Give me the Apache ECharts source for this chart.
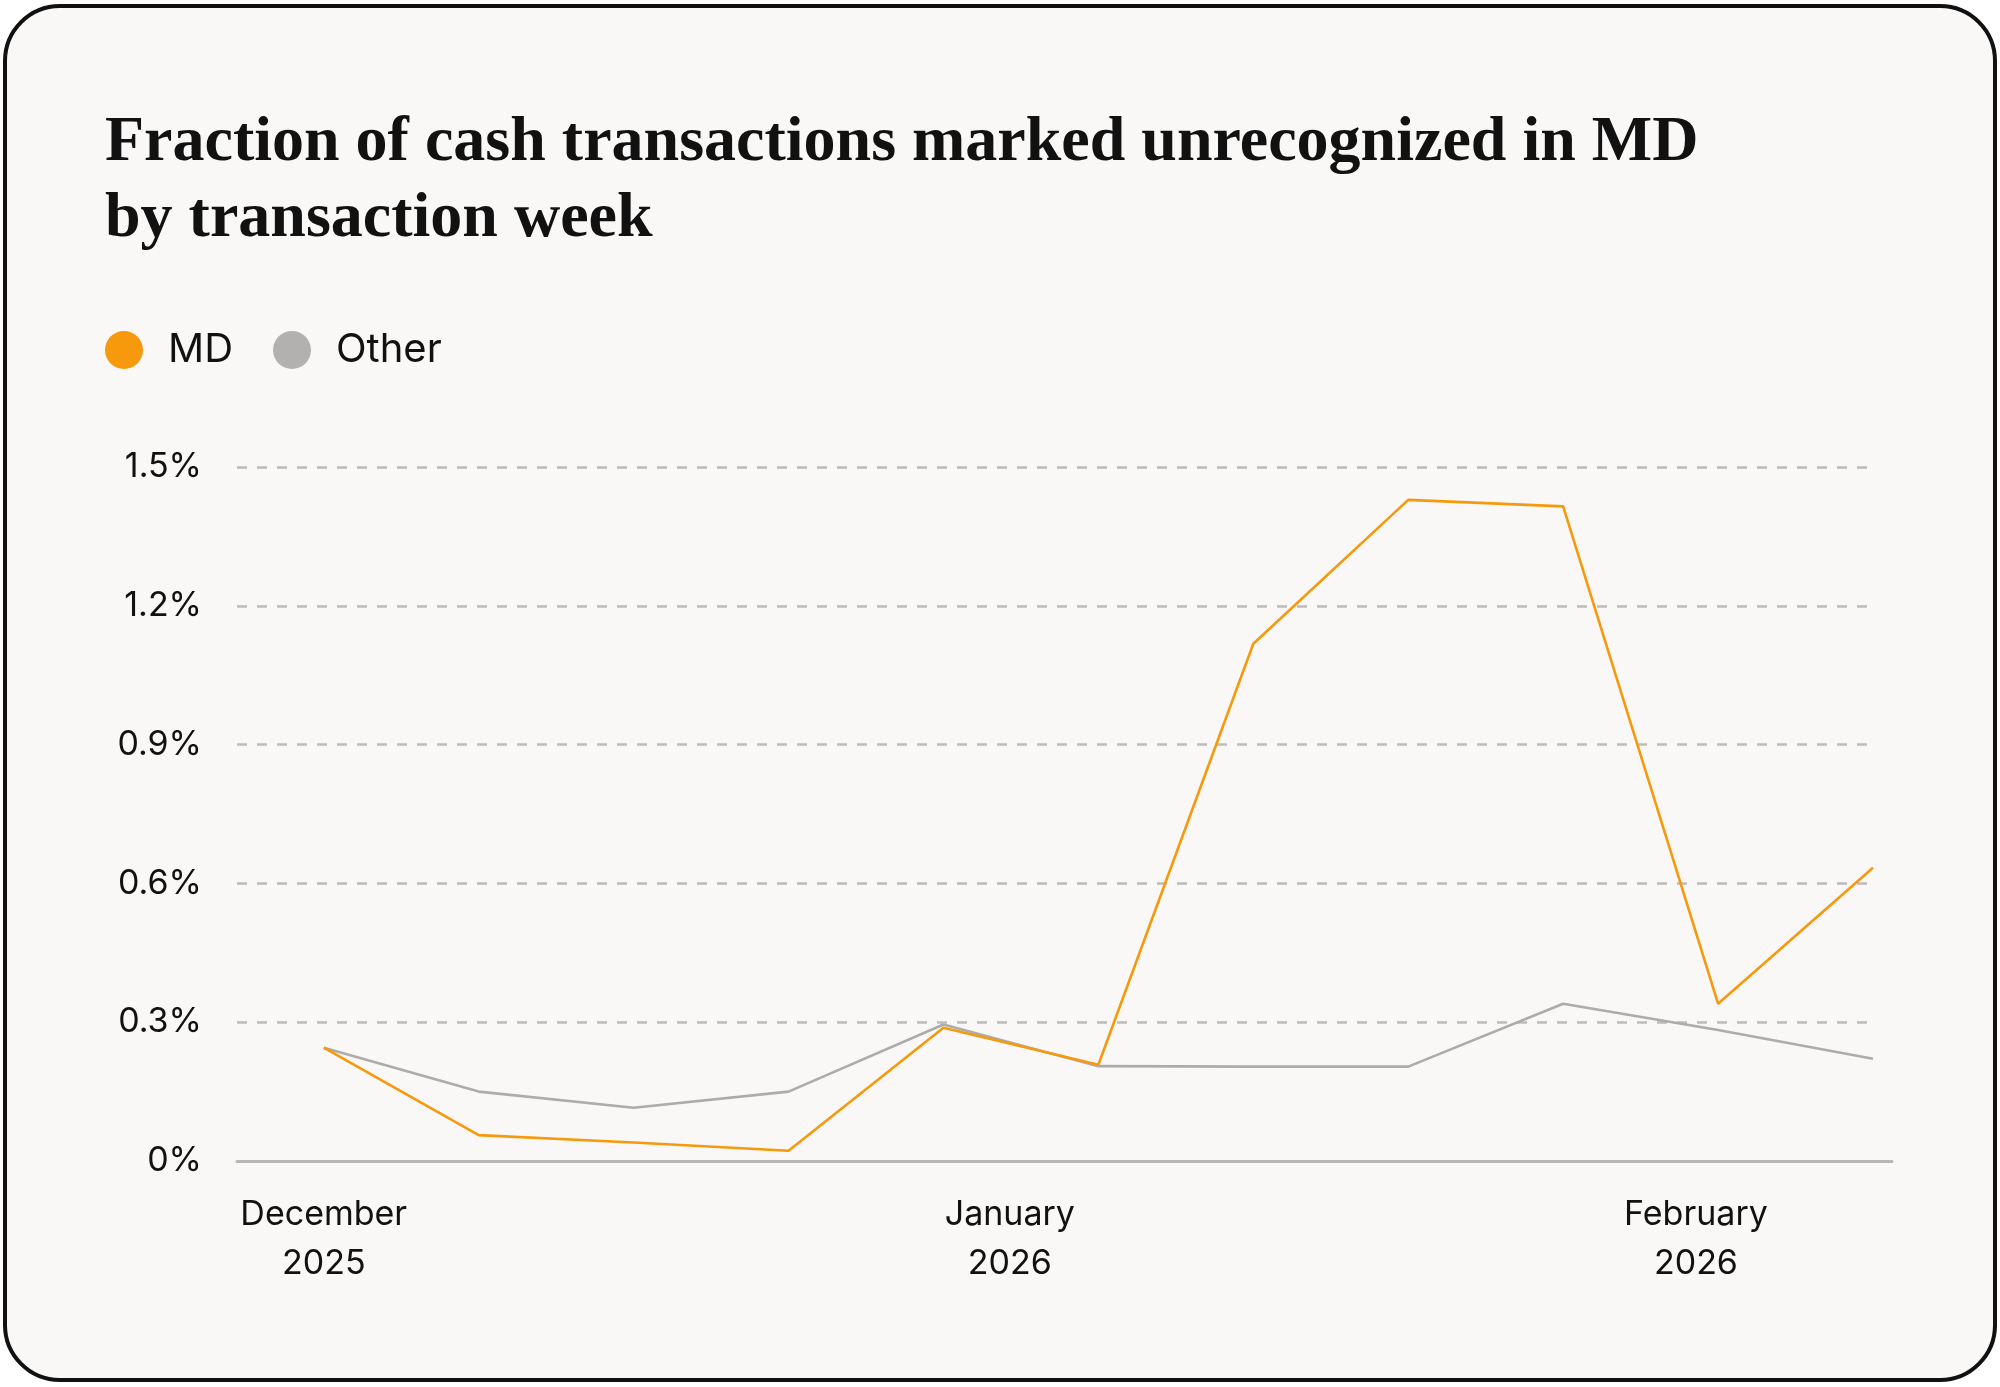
<!DOCTYPE html>
<html lang="en">
<head>
    <meta charset="UTF-8">
    <title>Unrecognized cash transactions</title>
    <script src="https://cdn.jsdelivr.net/npm/echarts@6/dist/echarts.min.js"></script>
    <style type="text/css">
        html, body {
            height: 100%;
            margin: 0;
            background-color: #ffffff;
        }
        #chart {
            width: 2000px;
            height: 1387px;
        }
    </style>
</head>
<body>
    <div id="chart"></div>
    <script type="text/javascript">
        // weekly data (week start dates), values in percent
        var weeks = ['2025-12-01', '2025-12-08', '2025-12-15', '2025-12-22', '2025-12-29',
                     '2026-01-05', '2026-01-12', '2026-01-19', '2026-01-26', '2026-02-02', '2026-02-09'];
        var mdValues = [0.245, 0.056, 0.040, 0.022, 0.288, 0.208, 1.118, 1.429, 1.415, 0.340, 0.634];
        var otherValues = [0.245, 0.150, 0.115, 0.150, 0.295, 0.205, 0.204, 0.204, 0.340, 0.283, 0.221];
        var monthTicks = ['2025-12-01', '2026-01-01', '2026-02-01'];
        var monthNames = ['January', 'February', 'March', 'April', 'May', 'June', 'July',
                          'August', 'September', 'October', 'November', 'December'];

        var sans = 'Inter';
        var DAY = 864e5;

        function toTime(s) {
            var p = s.split('-');
            return new Date(+p[0], +p[1] - 1, +p[2]).getTime();
        }

        var mdData = [];
        var otherData = [];
        for (var i = 0; i < weeks.length; i++) {
            mdData.push([toTime(weeks[i]), mdValues[i]]);
            otherData.push([toTime(weeks[i]), otherValues[i]]);
        }

        var chart = echarts.init(document.getElementById('chart'));

        var option = {
            backgroundColor: '#ffffff',
            animation: false,
            graphic: [{
                type: 'rect',
                z: -10,
                shape: { x: 5, y: 6, width: 1990, height: 1374, r: 55 },
                style: { fill: '#F9F8F6', stroke: '#111111', lineWidth: 4 }
            }],
            title: {
                text: 'Fraction of cash transactions marked unrecognized in MD\nby transaction week',
                left: 100,
                top: 100,
                textStyle: {
                    fontFamily: 'Liberation Serif',
                    fontWeight: 'bold',
                    fontSize: 64,
                    lineHeight: 76,
                    color: '#111111'
                }
            },
            legend: {
                data: ['MD', 'Other'],
                left: 100,
                top: 325,
                icon: 'circle',
                itemWidth: 38,
                itemHeight: 38,
                itemGap: 40,
                textStyle: {
                    fontFamily: sans,
                    fontSize: 40,
                    color: '#111111',
                    padding: [0, 0, 0, 20]
                }
            },
            grid: [
                { left: 237, right: 127, top: 467, bottom: 226 },
                { left: 237, right: 108, top: 467, bottom: 226 }
            ],
            xAxis: [{
                // dates as timestamps on a linear axis, labels at month starts
                type: 'value',
                gridIndex: 0,
                min: toTime(weeks[0]) - 3.92 * DAY,
                max: toTime(weeks[weeks.length - 1]),
                axisLine: { show: false },
                axisTick: { show: false },
                splitLine: { show: false },
                axisLabel: {
                    customValues: monthTicks.map(toTime),
                    formatter: function (v) {
                        var d = new Date(v);
                        return monthNames[d.getMonth()] + '\n' + d.getFullYear();
                    },
                    fontFamily: sans,
                    fontSize: 34,
                    lineHeight: 49,
                    color: '#111111',
                    margin: 29
                }
            }, {
                // axis baseline, runs a little past the last week
                type: 'value',
                gridIndex: 1,
                axisLine: { show: true, lineStyle: { color: '#B8B7B5', width: 3 } },
                axisTick: { show: false },
                axisLabel: { show: false },
                splitLine: { show: false }
            }],
            yAxis: [{
                type: 'value',
                gridIndex: 0,
                min: 0,
                max: 1.5,
                interval: 0.3,
                axisLine: { show: false },
                axisTick: { show: false },
                axisLabel: {
                    formatter: function (v) {
                        return (v === 0 ? '0' : v.toFixed(1)) + '%';
                    },
                    fontFamily: sans,
                    fontSize: 34,
                    color: '#111111',
                    margin: 35,
                    padding: [0, 0, 8, 0]
                },
                splitLine: {
                    lineStyle: { color: '#BDBCBA', width: 2.5, type: [10, 10] }
                }
            }, {
                type: 'value',
                gridIndex: 1,
                show: false
            }],
            series: [
                {
                    name: 'MD',
                    type: 'line',
                    xAxisIndex: 0,
                    yAxisIndex: 0,
                    data: mdData,
                    showSymbol: false,
                    z: 4,
                    color: '#F7990C',
                    lineStyle: { color: '#F7990C', width: 2.6 }
                },
                {
                    name: 'Other',
                    type: 'line',
                    xAxisIndex: 0,
                    yAxisIndex: 0,
                    data: otherData,
                    showSymbol: false,
                    z: 3,
                    color: '#B2B1AF',
                    lineStyle: { color: '#ADACAA', width: 2.6 }
                }
            ]
        };

        chart.setOption(option);
    </script>
</body>
</html>
